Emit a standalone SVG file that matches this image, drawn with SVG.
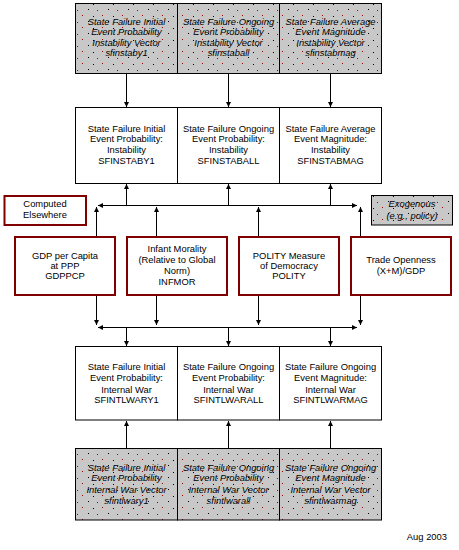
<svg xmlns="http://www.w3.org/2000/svg" width="459" height="550" viewBox="0 0 459 550">
<defs>
<pattern id="dots" width="20" height="12" patternUnits="userSpaceOnUse">
<rect width="20" height="12" fill="#c8c8c8"/>
<rect x="2" y="3" width="1" height="1" fill="#a00000"/>
<rect x="13" y="4" width="1" height="1" fill="#000"/>
<rect x="8" y="9" width="1" height="1" fill="#000"/>
<rect x="17" y="10" width="1" height="1" fill="#a00000"/>
</pattern>
<marker id="ah" viewBox="0 0 6 6" refX="6" refY="3" markerWidth="5" markerHeight="5" markerUnits="userSpaceOnUse" orient="auto">
<path d="M0,0 L6,3 L0,6 Z" fill="#000"/>
</marker>
<style>
.g{fill:url(#dots);stroke:#000;stroke-width:1}
.w{fill:#fff;stroke:#000;stroke-width:1}
.r{fill:#fff;stroke:#800000;stroke-width:2}
.c line,.c path{stroke:#000;stroke-width:1;fill:none}
text{font-family:"Liberation Sans",Arial,sans-serif;font-size:9.4px;fill:#000;text-anchor:middle}
.i{font-style:italic}
</style>
</defs>
<rect width="459" height="550" fill="#fff"/>

<g id="top-vectors">
<rect class="g" x="75.5" y="3.5" width="102" height="70"/>
<rect class="g" x="177.5" y="3.5" width="102" height="70"/>
<rect class="g" x="279.5" y="3.5" width="102" height="70"/>
</g>
<g id="v-sfinstaby1"><text class="i" x="126.5"><tspan x="126.5" y="24.5">State Failure Initial</tspan><tspan x="126.5" y="35">Event Probability</tspan><tspan x="126.5" y="45.5">Instability Vector</tspan><tspan x="126.5" y="56">sfinstaby1</tspan></text></g>
<g id="v-sfinstaball"><text class="i" x="228.5"><tspan x="228.5" y="24.5">State Failure Ongoing</tspan><tspan x="228.5" y="35">Event Probability</tspan><tspan x="228.5" y="45.5">Instability Vector</tspan><tspan x="228.5" y="56">sfinstaball</tspan></text></g>
<g id="v-sfinstabmag"><text class="i" x="330.5"><tspan x="330.5" y="24.5">State Failure Average</tspan><tspan x="330.5" y="35">Event Magnitude</tspan><tspan x="330.5" y="45.5">Instability Vector</tspan><tspan x="330.5" y="56">sfinstabmag</tspan></text></g>

<g id="inst-boxes">
<rect class="w" x="75.5" y="107.5" width="102" height="76"/>
<rect class="w" x="177.5" y="107.5" width="102" height="76"/>
<rect class="w" x="279.5" y="107.5" width="102" height="76"/>
</g>
<g id="SFINSTABY1"><text><tspan x="126.5" y="131.5">State Failure Initial</tspan><tspan x="126.5" y="142">Event Probability:</tspan><tspan x="126.5" y="153">Instability</tspan><tspan x="126.5" y="164">SFINSTABY1</tspan></text></g>
<g id="SFINSTABALL"><text><tspan x="228.5" y="131.5">State Failure Ongoing</tspan><tspan x="228.5" y="142">Event Probability:</tspan><tspan x="228.5" y="153">Instability</tspan><tspan x="228.5" y="164">SFINSTABALL</tspan></text></g>
<g id="SFINSTABMAG"><text><tspan x="330.5" y="131.5">State Failure Average</tspan><tspan x="330.5" y="142">Event Magnitude:</tspan><tspan x="330.5" y="153">Instability</tspan><tspan x="330.5" y="164">SFINSTABMAG</tspan></text></g>

<g id="legend-computed">
<rect class="r" x="4.5" y="196" width="81.5" height="29"/>
<text><tspan x="45" y="206.5">Computed</tspan><tspan x="45" y="217.5">Elsewhere</tspan></text>
</g>
<g id="legend-exogenous">
<rect class="g" x="371.5" y="195.5" width="81" height="29.5"/>
<text class="i"><tspan x="412" y="206.5">Exogenous</tspan><tspan x="412" y="219">(e.g., policy)</tspan></text>
</g>

<g id="GDPPCP">
<rect class="r" x="15" y="237" width="100" height="58"/>
<text><tspan x="65" y="259">GDP per Capita</tspan><tspan x="65" y="269">at PPP</tspan><tspan x="65" y="278.5">GDPPCP</tspan></text>
</g>
<g id="INFMOR">
<rect class="r" x="127" y="237" width="100" height="58"/>
<text><tspan x="177" y="251.5">Infant Morality</tspan><tspan x="177" y="262.5">(Relative to Global</tspan><tspan x="177" y="274">Norm)</tspan><tspan x="177" y="285">INFMOR</tspan></text>
</g>
<g id="POLITY">
<rect class="r" x="239" y="237" width="100" height="58"/>
<text><tspan x="289" y="258.5">POLITY Measure</tspan><tspan x="289" y="268.5">of Democracy</tspan><tspan x="289" y="278.5">POLITY</tspan></text>
</g>
<g id="TRADE">
<rect class="r" x="351" y="237" width="100" height="58"/>
<text><tspan x="401" y="262.5">Trade Openness</tspan><tspan x="401" y="273.5">(X+M)/GDP</tspan></text>
</g>

<g id="war-boxes">
<rect class="w" x="75.5" y="346.5" width="102" height="73.5"/>
<rect class="w" x="177.5" y="346.5" width="102" height="73.5"/>
<rect class="w" x="279.5" y="346.5" width="102" height="73.5"/>
</g>
<g id="SFINTLWARY1"><text><tspan x="126.5" y="370">State Failure Initial</tspan><tspan x="126.5" y="380.5">Event Probability:</tspan><tspan x="126.5" y="392.5">Internal War</tspan><tspan x="126.5" y="403">SFINTLWARY1</tspan></text></g>
<g id="SFINTLWARALL"><text><tspan x="228.5" y="370">State Failure Ongoing</tspan><tspan x="228.5" y="380.5">Event Probability:</tspan><tspan x="228.5" y="392.5">Internal War</tspan><tspan x="228.5" y="403">SFINTLWARALL</tspan></text></g>
<g id="SFINTLWARMAG"><text><tspan x="330.5" y="370">State Failure Ongoing</tspan><tspan x="330.5" y="380.5">Event Magnitude:</tspan><tspan x="330.5" y="392.5">Internal War</tspan><tspan x="330.5" y="403">SFINTLWARMAG</tspan></text></g>

<g id="bottom-vectors">
<rect class="g" x="75.5" y="448.5" width="102" height="71.5"/>
<rect class="g" x="177.5" y="448.5" width="102" height="71.5"/>
<rect class="g" x="279.5" y="448.5" width="102" height="71.5"/>
</g>
<g id="v-sfintlwary1"><text class="i"><tspan x="126.5" y="470.5">State Failure Initial</tspan><tspan x="126.5" y="481">Event Probability</tspan><tspan x="126.5" y="492.5">Internal War Vector</tspan><tspan x="126.5" y="504">sfintlwary1</tspan></text></g>
<g id="v-sfintlwarall"><text class="i"><tspan x="228.5" y="470.5">State Failure Ongoing</tspan><tspan x="228.5" y="481">Event Probability</tspan><tspan x="228.5" y="492.5">Internal War Vector</tspan><tspan x="228.5" y="504">sfintlwarall</tspan></text></g>
<g id="v-sfintlwarmag"><text class="i"><tspan x="330.5" y="470.5">State Failure Ongoing</tspan><tspan x="330.5" y="481">Event Magnitude</tspan><tspan x="330.5" y="492.5">Internal War Vector</tspan><tspan x="330.5" y="504">sfintlwarmag</tspan></text></g>

<g id="connectors" class="c">
<line x1="126.5" y1="74" x2="126.5" y2="107" marker-end="url(#ah)"/>
<line x1="228.5" y1="74" x2="228.5" y2="107" marker-end="url(#ah)"/>
<line x1="330.5" y1="74" x2="330.5" y2="107" marker-end="url(#ah)"/>

<line x1="126.5" y1="205.5" x2="126.5" y2="184" marker-end="url(#ah)"/>
<line x1="228.5" y1="205.5" x2="228.5" y2="184" marker-end="url(#ah)"/>
<line x1="330.5" y1="205.5" x2="330.5" y2="184" marker-end="url(#ah)"/>

<line x1="228" y1="205.5" x2="98" y2="205.5" marker-end="url(#ah)"/>
<line x1="228" y1="205.5" x2="357" y2="205.5" marker-end="url(#ah)"/>
<line x1="96.5" y1="236" x2="96.5" y2="207" marker-end="url(#ah)"/>
<line x1="156.5" y1="236" x2="156.5" y2="207" marker-end="url(#ah)"/>
<line x1="258.5" y1="236" x2="258.5" y2="207" marker-end="url(#ah)"/>
<line x1="360.5" y1="236" x2="360.5" y2="207" marker-end="url(#ah)"/>

<line x1="96.5" y1="296" x2="96.5" y2="325" marker-end="url(#ah)"/>
<line x1="156.5" y1="296" x2="156.5" y2="325" marker-end="url(#ah)"/>
<line x1="258.5" y1="296" x2="258.5" y2="325" marker-end="url(#ah)"/>
<line x1="360.5" y1="296" x2="360.5" y2="325" marker-end="url(#ah)"/>
<line x1="228" y1="327.5" x2="98" y2="327.5" marker-end="url(#ah)"/>
<line x1="228" y1="327.5" x2="357" y2="327.5" marker-end="url(#ah)"/>

<line x1="126.5" y1="327.5" x2="126.5" y2="346" marker-end="url(#ah)"/>
<line x1="228.5" y1="327.5" x2="228.5" y2="346" marker-end="url(#ah)"/>
<line x1="330.5" y1="327.5" x2="330.5" y2="346" marker-end="url(#ah)"/>

<line x1="126.5" y1="448" x2="126.5" y2="421" marker-end="url(#ah)"/>
<line x1="228.5" y1="448" x2="228.5" y2="421" marker-end="url(#ah)"/>
<line x1="330.5" y1="448" x2="330.5" y2="421" marker-end="url(#ah)"/>
</g>

<text x="447" y="540" style="text-anchor:end">Aug 2003</text>
</svg>
